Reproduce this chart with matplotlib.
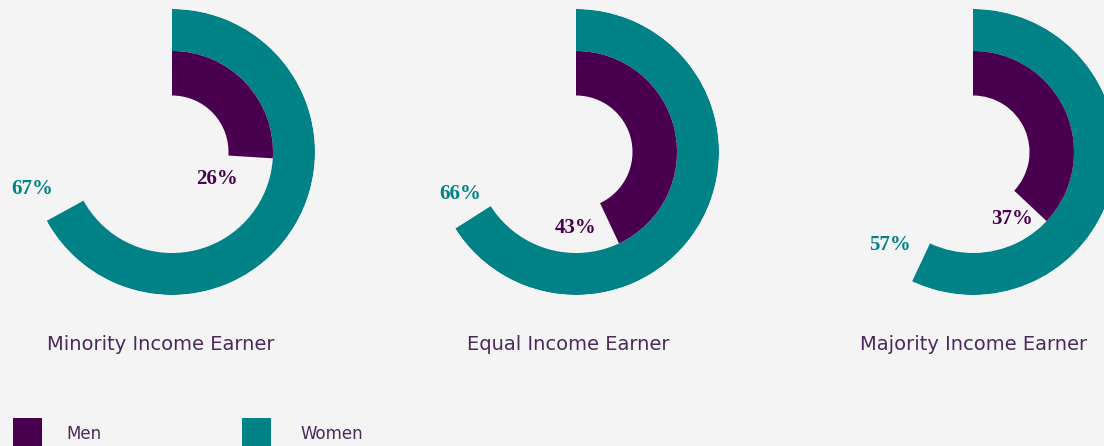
import numpy as np
import matplotlib.pyplot as plt
from matplotlib.patches import Rectangle

# data
groups = ["Minority Income Earner", "Equal Income Earner", "Majority Income Earner"]
women = [67, 66, 57]
men = [26, 43, 37]
series = ["Men", "Women"]

TEAL = "#008286"
PURPLE = "#48004f"
BG = "#f4f4f4"
TXT = "#4a2a5c"

W, H = 1104, 446
fig = plt.figure(figsize=(W / 100, H / 100), dpi=100)
fig.patch.set_facecolor(BG)

centers = [172, 576, 973]   # px, x of each ring centre
cy = 152                    # px from top
R = 143
r_teal, r_purple_in = 101, 56.5

# label positions (px)
women_lbl = [(32, 189), (460, 194), (890, 245)]
men_lbl = [(217, 179), (576, 228), (1012, 219)]
title_x = [161, 568, 974]


def px(x, y):
    return x / W, 1 - y / H


for i, g in enumerate(groups):
    cx = centers[i]
    ax = fig.add_axes([(cx - R) / W, (H - cy - R) / H, 2 * R / W, 2 * R / H],
                      projection="polar")
    ax.set_theta_zero_location("N")
    ax.set_theta_direction(-1)
    ax.set_ylim(0, R)
    ax.bar(0, R - r_teal, width=women[i] / 100 * 2 * np.pi, bottom=r_teal,
           align="edge", color=TEAL, linewidth=0)
    ax.bar(0, r_teal - r_purple_in, width=men[i] / 100 * 2 * np.pi,
           bottom=r_purple_in, align="edge", color=PURPLE, linewidth=0)
    ax.set_axis_off()
    ax.patch.set_alpha(0)

    fig.text(*px(*women_lbl[i]), f"{women[i]}%", color=TEAL, ha="center",
             va="center", fontsize=15, fontweight="bold", family="Liberation Serif")
    fig.text(*px(*men_lbl[i]), f"{men[i]}%", color=PURPLE, ha="center",
             va="center", fontsize=15, fontweight="bold", family="Liberation Serif")
    fig.text(*px(title_x[i], 344), g, color=TXT, ha="center",
             va="center", fontsize=14, family="DejaVu Sans")

# legend
leg = fig.add_axes([0, 0, 1, 1])
leg.set_xlim(0, W)
leg.set_ylim(H, 0)
leg.set_axis_off()
leg.patch.set_alpha(0)
for name, col, x0, tx in [(series[0], PURPLE, 13, 66), (series[1], TEAL, 242, 300)]:
    leg.add_patch(Rectangle((x0, 418), 29, 30, color=col, linewidth=0))
    leg.text(tx, 434, name, color=TXT, fontsize=12, va="center", family="DejaVu Sans")

fig.savefig("out.png", dpi=100, facecolor=BG)
